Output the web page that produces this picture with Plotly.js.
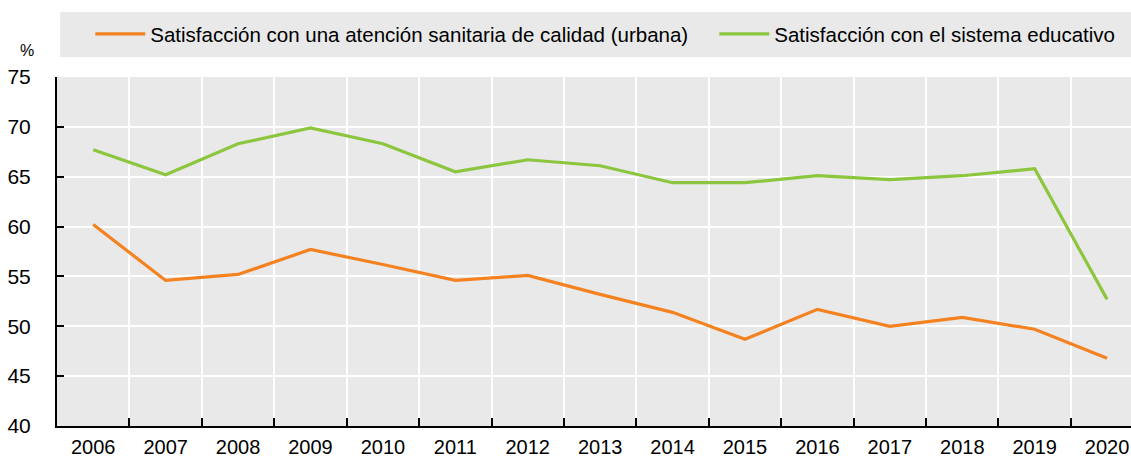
<!DOCTYPE html>
<html>
<head>
<meta charset="utf-8">
<script src="https://cdn.plot.ly/plotly-3.0.1.min.js"></script>
<style>html,body{margin:0;padding:0;background:#fff;}#chart{width:1131px;height:458px;}</style>
</head>
<body>
<div id="chart"></div>
<script>
const years = ["2006","2007","2008","2009","2010","2011","2012","2013","2014","2015","2016","2017","2018","2019","2020"];
const healthName = "Satisfacción con una atención sanitaria de calidad (urbana)";
const healthValues = [60.2, 54.6, 55.2, 57.7, 56.2, 54.6, 55.1, 53.2, 51.4, 48.7, 51.7, 50.0, 50.9, 49.7, 46.8];
const eduName = "Satisfacción con el sistema educativo";
const eduValues = [67.7, 65.2, 68.3, 69.9, 68.3, 65.5, 66.7, 66.1, 64.4, 64.4, 65.1, 64.7, 65.1, 65.8, 52.7];
const yTicks = [40, 45, 50, 55, 60, 65, 70, 75];

const FONT = "'Liberation Sans', Arial, sans-serif";

const traces = [
  {x: years, y: healthValues, name: healthName, type: "scatter", mode: "lines",
   line: {color: "#F58220", width: 3.2}, legend: "legend"},
  {x: years, y: eduValues, name: eduName, type: "scatter", mode: "lines",
   line: {color: "#8CC63F", width: 3.2}, legend: "legend2"}
];

const legendCommon = {
  orientation: "h", xanchor: "left", y: 1.123, yanchor: "middle",
  bgcolor: "rgba(0,0,0,0)", font: {family: FONT, size: 20.5, color: "#000"},
  itemwidth: 50, borderwidth: 0
};

const layout = {
  width: 1131, height: 458,
  margin: {l: 57, r: 0, t: 77, b: 32},
  paper_bgcolor: "#ffffff",
  plot_bgcolor: "#E9E9E9",
  font: {family: FONT, size: 20, color: "#000"},
  showlegend: true,
  legend: Object.assign({}, legendCommon, {x: 0.031}),
  legend2: Object.assign({}, legendCommon, {x: 0.612}),
  shapes: [{
    type: "rect", xref: "paper", yref: "paper",
    x0: 0.003, x1: 1, y0: 1.057, y1: 1.186,
    fillcolor: "#E9E9E9", line: {width: 0}, layer: "below"
  }],
  annotations: [{
    text: "%", xref: "paper", yref: "paper", x: -0.028, y: 1.077,
    xanchor: "center", yanchor: "middle", showarrow: false,
    font: {family: FONT, size: 16, color: "#000"}
  }],
  xaxis: {
    type: "category", range: [-0.5, 14.33],
    tickson: "boundaries", ticks: "inside", ticklen: 8, tickwidth: 2, tickcolor: "#000",
    showgrid: true, gridcolor: "#ffffff", gridwidth: 2,
    showline: true, linecolor: "#000", linewidth: 2,
    ticklabelstandoff: 2,
    tickfont: {family: FONT, size: 20, color: "#000"},
    fixedrange: true
  },
  yaxis: {
    range: [40, 75], tickvals: yTicks, ticktext: yTicks.map(String),
    ticks: "inside", ticklen: 7, tickwidth: 2, tickcolor: "#000",
    showgrid: true, gridcolor: "#ffffff", gridwidth: 2,
    showline: true, linecolor: "#000", linewidth: 2,
    zeroline: false, ticklabelstandoff: 20,
    tickfont: {family: FONT, size: 21, color: "#000"},
    fixedrange: true
  }
};

Plotly.newPlot("chart", traces, layout, {displayModeBar: false, staticPlot: true});
</script>
</body>
</html>
